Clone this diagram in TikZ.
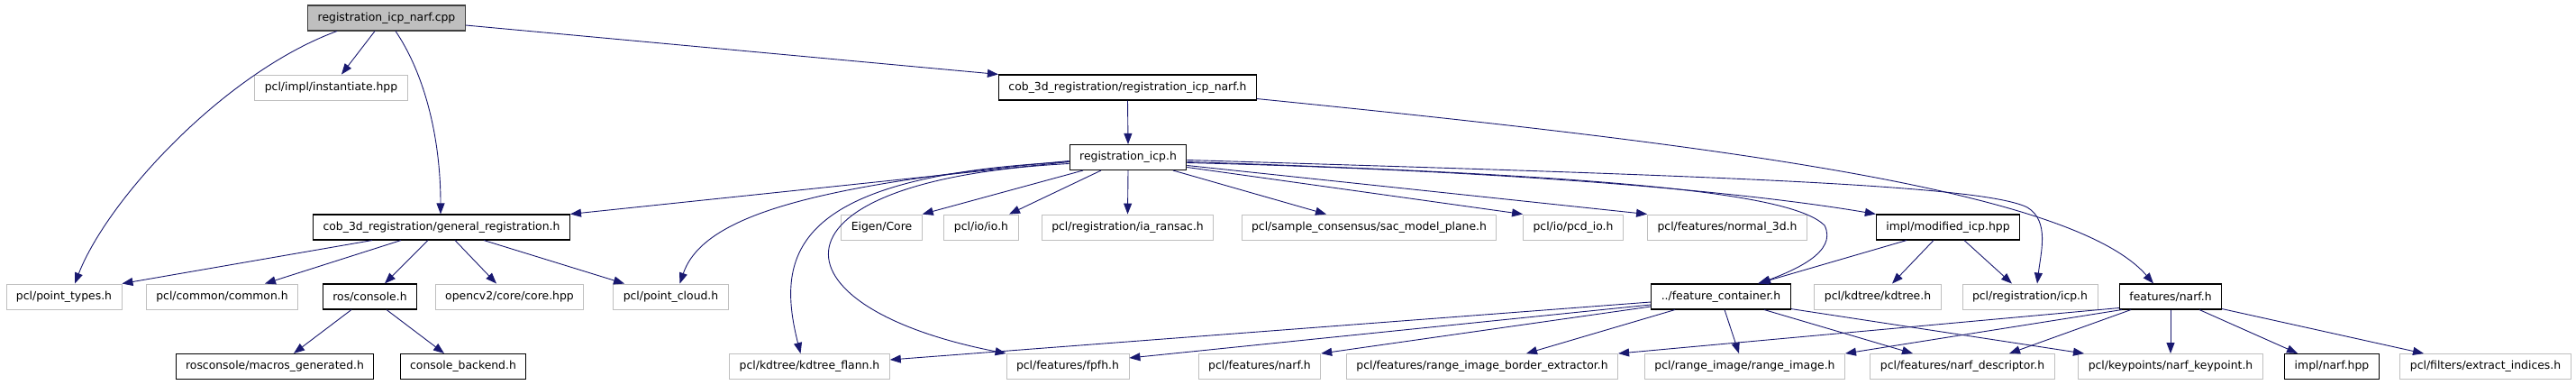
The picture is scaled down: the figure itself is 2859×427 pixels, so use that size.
\documentclass[tikz,border=0pt]{standalone}
\usepackage{fontspec}
\setmainfont{DejaVu Sans}
\usepackage{tikz}
\usetikzlibrary{positioning, arrows.meta, calc}

\definecolor{depblue}{HTML}{191970}
\definecolor{rootgray}{HTML}{BFBFBF}
\definecolor{extgray}{HTML}{BFBFBF}
\definecolor{rootline}{HTML}{404040}

\begin{document}
\begin{tikzpicture}[
	x=1pt, y=-1pt,
	% --- ESTILOS ---
	filebox/.style={
		rectangle, draw=black, line width=1.1pt, fill=white,
		minimum height=28pt, inner xsep=11pt, inner ysep=0pt,
		font=\fontsize{12.4}{14}\selectfont
	},
	rootbox/.style={
		filebox, draw=rootline, fill=rootgray
	},
	extbox/.style={
		filebox, draw=extgray, line width=0.9pt
	},
	dep/.style={
		draw=depblue, line width=0.9pt, -{Triangle[length=12pt,width=9pt]}
	}
	]
	
	% --- 0. Marco ---
	\fill[white] (0,0) rectangle (2859,427);
	\useasboundingbox (0,0) rectangle (2859,427);
	
	% --- 1. Fila superior ---
	\node [rootbox] (root) at (429,20) {registration\_icp\_narf.cpp};
	\node [extbox] (instantiate) at (367.5,97) {pcl/impl/instantiate.hpp};
	\node [filebox] (regnarfh) at (1251.5,97) {cob\_3d\_registration/registration\_icp\_narf.h};
	\node [filebox] (regicp) at (1252,174.5) {registration\_icp.h};
	
	% --- 2. Fila de registration_icp.h ---
	\node [filebox] (genreg) at (490,252) {cob\_3d\_registration/general\_registration.h};
	\node [extbox] (eigen) at (978.5,252) {Eigen/Core};
	\node [extbox] (ioh) at (1089,252) {pcl/io/io.h};
	\node [extbox] (iaransac) at (1251.5,252) {pcl/registration/ia\_ransac.h};
	\node [extbox] (sacplane) at (1519.5,252) {pcl/sample\_consensus/sac\_model\_plane.h};
	\node [extbox] (pcdio) at (1746,252) {pcl/io/pcd\_io.h};
	\node [extbox] (normal3d) at (1917,252) {pcl/features/normal\_3d.h};
	\node [filebox] (modicp) at (2162,252) {impl/modified\_icp.hpp};
	
	% --- 3. Fila intermedia ---
	\node [extbox] (pointtypes) at (71,329) {pcl/point\_types.h};
	\node [extbox] (common) at (246.5,329) {pcl/common/common.h};
	\node [filebox] (rosconsole) at (410.5,329) {ros/console.h};
	\node [extbox] (opencv) at (565.5,329) {opencv2/core/core.hpp};
	\node [extbox] (pointcloud) at (744.5,329) {pcl/point\_cloud.h};
	\node [filebox] (featcont) at (1910,329) {../feature\_container.h};
	\node [extbox] (kdtree) at (2084,329) {pcl/kdtree/kdtree.h};
	\node [extbox] (regicph) at (2253,329) {pcl/registration/icp.h};
	\node [filebox] (narfh) at (2409,329) {features/narf.h};
	
	% --- 4. Fila inferior ---
	\node [filebox] (macros) at (305,406.5) {rosconsole/macros\_generated.h};
	\node [filebox] (backend) at (514,406.5) {console\_backend.h};
	\node [extbox] (kdflann) at (898.5,406.5) {pcl/kdtree/kdtree\_flann.h};
	\node [extbox] (fpfh) at (1185,406.5) {pcl/features/fpfh.h};
	\node [extbox] (pclnarf) at (1398,406.5) {pcl/features/narf.h};
	\node [extbox] (border) at (1645,406.5) {pcl/features/range\_image\_border\_extractor.h};
	\node [extbox] (rangeimg) at (1936.5,406.5) {pcl/range\_image/range\_image.h};
	\node [extbox] (narfdesc) at (2178,406.5) {pcl/features/narf\_descriptor.h};
	\node [extbox] (narfkp) at (2409,406.5) {pcl/keypoints/narf\_keypoint.h};
	\node [filebox] (narfhpp) at (2588,406.5) {impl/narf.hpp};
	\node [extbox] (extract) at (2758.5,406.5) {pcl/filters/extract\_indices.h};
	
	% --- 5. Dependencias del .cpp ---
	\draw [dep] ([xshift=-55pt]root.south) .. controls (250,80) and (120,220) .. ([xshift=12pt]pointtypes.north);
	\draw [dep] ([xshift=-13pt]root.south) -- ([xshift=11.5pt]instantiate.north);
	\draw [dep] ([xshift=10pt]root.south) .. controls (470,80) and (489,150) .. ([xshift=-1pt]genreg.north);
	\draw [dep] ([yshift=-8pt]root.east) -- (regnarfh.north west);
	
	% --- 6. registration_icp_narf.h ---
	\draw [dep] (regnarfh.south) -- (regicp.north);
	\draw [dep] ([yshift=2pt]regnarfh.south east) .. controls (1900,160) and (2300,210) .. ([xshift=-19pt]narfh.north);
	
	% --- 7. registration_icp.h ---
	\draw [dep] ([yshift=-5pt]regicp.west) -- (genreg.north east);
	\draw [dep] ([yshift=-4pt]regicp.west) .. controls (900,205) and (780,240) .. ([xshift=10pt]pointcloud.north);
	\draw [dep] ([yshift=-5pt]regicp.west) .. controls (880,195) and (860,280) .. ([xshift=-10pt]kdflann.north);
	\draw [dep] ([yshift=-7pt]regicp.west) .. controls (840,200) and (850,340) .. (fpfh.north west);
	\draw [dep] ([xshift=-50pt]regicp.south) -- (eigen.north east);
	\draw [dep] ([xshift=-30pt]regicp.south) -- ([xshift=31pt]ioh.north);
	\draw [dep] (regicp.south) -- (iaransac.north);
	\draw [dep] ([xshift=50pt]regicp.south) -- ([xshift=-47.5pt]sacplane.north);
	\draw [dep] ([yshift=-11pt]regicp.east) -- (pcdio.north west);
	\draw [dep] ([yshift=-9pt]regicp.east) -- (normal3d.north west);
	\draw [dep] ([yshift=-6pt]regicp.east) .. controls (1700,190) and (1950,215) .. (modicp.north west);
	\draw [dep] ([yshift=-5pt]regicp.east) .. controls (1800,195) and (1990,215) .. (2025,250)
		.. controls (2040,280) and (1990,300) .. ([xshift=43pt]featcont.north);
	\draw [dep] ([yshift=-3pt]regicp.east) .. controls (1900,195) and (2200,205) .. (2250,230)
		.. controls (2275,245) and (2265,280) .. ([xshift=8pt]regicph.north);
	
	% --- 8. general_registration.h ---
	\draw [dep] ([xshift=-77pt]genreg.south) -- (pointtypes.north east);
	\draw [dep] ([xshift=-45pt]genreg.south) -- ([xshift=47.5pt]common.north);
	\draw [dep] ([xshift=-15pt]genreg.south) -- ([xshift=16.5pt]rosconsole.north);
	\draw [dep] ([xshift=15pt]genreg.south) -- ([xshift=-14.5pt]opencv.north);
	\draw [dep] ([xshift=47pt]genreg.south) -- ([xshift=-51.5pt]pointcloud.north);
	
	% --- 9. ros/console.h ---
	\draw [dep] ([xshift=-20.5pt]rosconsole.south) -- ([xshift=21pt]macros.north);
	\draw [dep] ([xshift=18.5pt]rosconsole.south) -- ([xshift=-21pt]backend.north);
	
	% --- 10. modified_icp.hpp ---
	\draw [dep] ([xshift=-46pt]modicp.south) -- ([xshift=41pt]featcont.north);
	\draw [dep] ([xshift=-16pt]modicp.south) -- ([xshift=16pt]kdtree.north);
	\draw [dep] ([xshift=18pt]modicp.south) -- ([xshift=-20pt]regicph.north);
	
	% --- 11. feature_container.h ---
	\draw [dep] ([yshift=-6pt]featcont.west) -- ([yshift=7.5pt]kdflann.east);
	\draw [dep] ([yshift=-9pt]featcont.west) -- ([yshift=9.5pt]fpfh.east);
	\draw [dep] ([yshift=-11pt]featcont.west) -- (pclnarf.north east);
	\draw [dep] ([xshift=-51pt]featcont.south) -- ([xshift=49pt]border.north);
	\draw [dep] ([xshift=4pt]featcont.south) -- ([xshift=-6.5pt]rangeimg.north);
	\draw [dep] ([xshift=48pt]featcont.south) -- ([xshift=-55pt]narfdesc.north);
	\draw [dep] ([yshift=1pt]featcont.south east) -- ([xshift=-96pt]narfkp.north);
	
	% --- 12. features/narf.h ---
	\draw [dep] ([yshift=2pt]narfh.south west) -- (border.north east);
	\draw [dep] ([xshift=3pt]narfh.south west) -- (rangeimg.north east);
	\draw [dep] ([xshift=-44pt]narfh.south) -- ([xshift=52pt]narfdesc.north);
	\draw [dep] (narfh.south) -- (narfkp.north);
	\draw [dep] ([xshift=32pt]narfh.south) -- ([xshift=-38pt]narfhpp.north);
	\draw [dep] ([yshift=1pt]narfh.south east) -- ([xshift=-68.5pt]extract.north);
	
\end{tikzpicture}
\end{document}
